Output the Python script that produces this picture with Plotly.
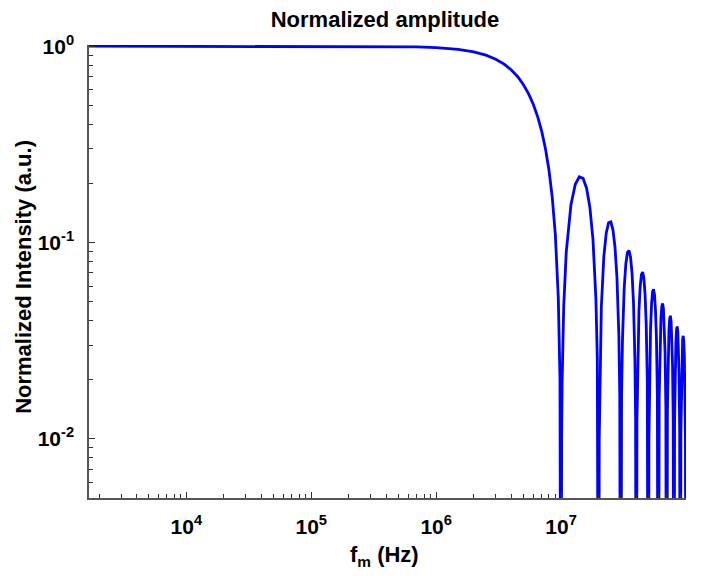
import plotly.graph_objects as go

# Modulation frequency (Hz) and normalized amplitude
freq_hz = [
    1.66e3, 1e4, 1e5, 5e5, 7e5, 1.0e6, 1.5e6, 2.0e6, 2.5e6, 3.0e6, 3.5e6, 4.0e6, 4.5e6,
    5.0e6, 5.5e6, 6.0e6, 6.5e6, 7.0e6, 7.5e6, 8.0e6, 8.5e6, 9.0e6, 9.5e6, 9.8e6, 9.9e6,
    1.00e7, 1.01e7, 1.02e7, 1.05e7, 1.1e7, 1.2e7, 1.3e7, 1.4e7, 1.5e7, 1.6e7, 1.7e7, 1.8e7, 1.9e7, 1.95e7, 1.98e7,
    2.00e7, 2.02e7, 2.05e7, 2.1e7, 2.2e7, 2.3e7, 2.4e7, 2.5e7, 2.6e7, 2.7e7, 2.8e7, 2.9e7, 2.95e7, 2.98e7,
    3.00e7, 3.05e7, 3.1e7, 3.2e7, 3.3e7, 3.4e7, 3.5e7, 3.6e7, 3.7e7, 3.8e7, 3.9e7, 3.95e7,
    4.00e7, 4.05e7, 4.1e7, 4.2e7, 4.3e7, 4.4e7, 4.5e7, 4.6e7, 4.7e7, 4.8e7, 4.9e7, 4.95e7,
    5.00e7, 5.05e7, 5.1e7, 5.2e7, 5.3e7, 5.4e7, 5.5e7, 5.6e7, 5.7e7, 5.8e7, 5.9e7, 5.95e7,
    6.00e7, 6.1e7, 6.2e7, 6.3e7, 6.4e7, 6.5e7, 6.6e7, 6.7e7, 6.8e7, 6.9e7,
    7.00e7, 7.1e7, 7.2e7, 7.3e7, 7.4e7, 7.5e7, 7.6e7, 7.7e7, 7.8e7, 7.9e7,
    8.00e7, 8.1e7, 8.2e7, 8.3e7, 8.4e7, 8.5e7, 8.6e7, 8.7e7, 8.8e7, 8.9e7,
    9.00e7, 9.1e7, 9.2e7, 9.3e7, 9.4e7, 9.5e7, 9.6e7, 9.7e7, 9.8e7, 9.9e7,
    1.00e8,
]
amplitude = [
    1.0, 1.0, 1.0, 0.9959, 0.9920, 0.9836, 0.9634, 0.9355, 0.9003, 0.8584, 0.8103, 0.7568, 0.6987,
    0.6366, 0.5716, 0.5046, 0.4363, 0.3679, 0.3001, 0.2339, 0.1700, 0.1093, 0.0524, 0.0204, 0.0101,
    1e-4, 0.0099, 0.0196, 0.0474, 0.0894, 0.1559, 0.1981, 0.2162, 0.2122, 0.1892, 0.1515, 0.1039, 0.0518, 0.0255, 0.0101,
    1e-4, 0.0099, 0.0243, 0.0468, 0.0850, 0.1120, 0.1261, 0.1273, 0.1164, 0.0954, 0.0668, 0.0339, 0.0169, 0.0067,
    1e-4, 0.0163, 0.0317, 0.0585, 0.0780, 0.0890, 0.0909, 0.0841, 0.0696, 0.0492, 0.0252, 0.0126,
    1e-4, 0.0123, 0.0240, 0.0445, 0.0599, 0.0688, 0.0707, 0.0658, 0.0548, 0.0390, 0.0201, 0.0101,
    1e-4, 0.0099, 0.0193, 0.0360, 0.0486, 0.0561, 0.0579, 0.0541, 0.0452, 0.0323, 0.0167, 0.0084,
    1e-4, 0.0161, 0.0302, 0.0409, 0.0473, 0.0490, 0.0459, 0.0384, 0.0275, 0.0143,
    1e-4, 0.0139, 0.0260, 0.0353, 0.0409, 0.0424, 0.0398, 0.0334, 0.0240, 0.0125,
    1e-4, 0.0121, 0.0228, 0.0310, 0.0360, 0.0374, 0.0352, 0.0296, 0.0213, 0.0111,
    1e-4, 0.0108, 0.0203, 0.0277, 0.0322, 0.0335, 0.0315, 0.0265, 0.0191, 0.0099,
    1e-4,
]

x_tickvals = [1e4, 1e5, 1e6, 1e7, 1e8]
x_ticktext = ["10<sup>4</sup>", "10<sup>5</sup>", "10<sup>6</sup>", "10<sup>7</sup>", "10<sup>8</sup>"]
y_tickvals = [1e-2, 1e-1, 1e0]
y_ticktext = ["10<sup>-2</sup>", "10<sup>-1</sup>", "10<sup>0</sup>"]

title_text = "Normalized amplitude"
x_title = "f<sub>m</sub> (Hz)"
y_title = "Normalized Intensity (a.u.)"

FONT = "Liberation Sans, Arial, sans-serif"

# The page body has an 8 px margin, so the figure is drawn 8 px in from the
# window's top-left corner; size and margins compensate for that offset.
W, H = 693, 568

fig = go.Figure()
fig.add_trace(go.Scatter(
    x=freq_hz, y=amplitude, mode="lines",
    line=dict(color="#0000FF", width=2.8),
    showlegend=False,
))

axis_common = dict(
    type="log",
    automargin=False,
    showgrid=False,
    zeroline=False,
    showline=True,
    linecolor="#555555",
    linewidth=1.5,
    mirror=False,
    ticks="inside",
    ticklen=6,
    tickcolor="#333333",
    tickwidth=1,
    tickfont=dict(family=FONT, size=21, color="black", weight="bold"),
    minor=dict(ticks="inside", ticklen=4, tickcolor="#333333", dtick="D1", showgrid=False),
)

fig.update_layout(
    width=W, height=H,
    margin=dict(l=81, r=15, t=37, b=78, autoexpand=False),
    paper_bgcolor="white",
    plot_bgcolor="white",
    title=dict(text=title_text, x=377 / W, xanchor="center", xref="container",
               y=1 - 11.5 / H, yanchor="middle", yref="container",
               font=dict(family=FONT, size=22, color="black", weight="bold")),
    xaxis=dict(axis_common, range=[3.221, 8.0], tickmode="array",
               tickvals=x_tickvals, ticktext=x_ticktext, ticklabelstandoff=9),
    yaxis=dict(axis_common, range=[-2.301, 0.006], tickmode="array",
               tickvals=y_tickvals, ticktext=y_ticktext, ticklabelstandoff=9),
    annotations=[
        dict(text=x_title, xref="paper", yref="paper", x=0.495, y=-0.128,
             xanchor="center", yanchor="middle", showarrow=False,
             font=dict(family=FONT, size=22, color="black", weight="bold")),
        dict(text=y_title, xref="paper", yref="paper", x=-0.109, y=0.488,
             xanchor="center", yanchor="middle", showarrow=False, textangle=-90,
             font=dict(family=FONT, size=22, color="black", weight="bold")),
    ],
)

fig.write_html("out.html")
